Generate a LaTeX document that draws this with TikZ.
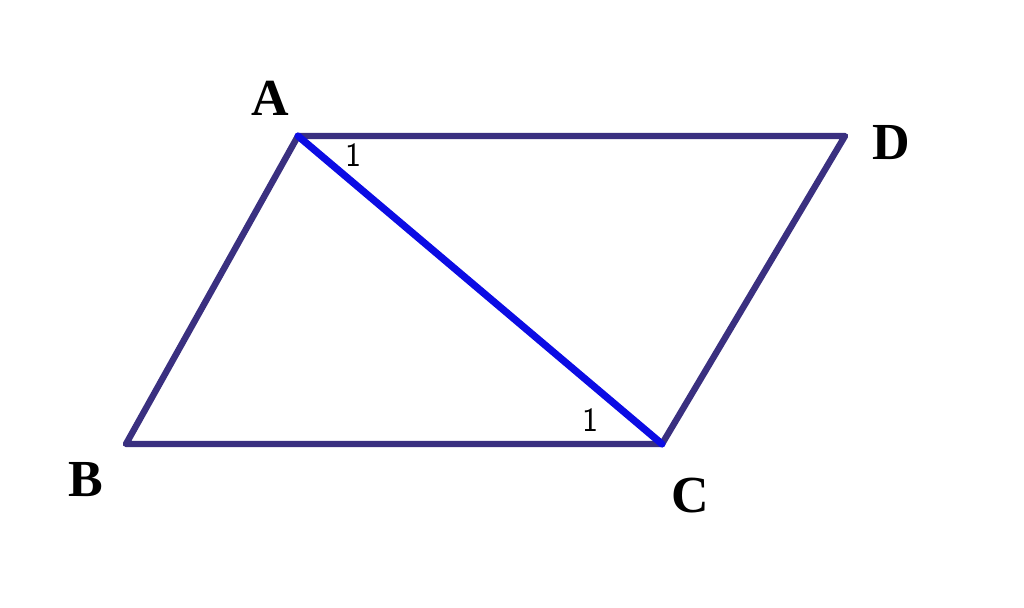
\documentclass[tikz,border=0pt]{standalone}
\usepackage{fontspec}
\setmainfont{Liberation Serif}
\usetikzlibrary{calc,positioning}
\definecolor{myedge}{RGB}{58,48,128}
\definecolor{mydiag}{RGB}{12,12,228}

\begin{document}
\begin{tikzpicture}[x=0.5pt, y=-0.5pt,
    vertex/.style = {font=\bfseries\fontsize{26}{26}\selectfont, inner sep=0pt},
    angle/.style = {font=\sffamily\fontsize{17}{17}\selectfont, inner sep=0pt},
    side/.style = {draw=myedge, line width=3.2pt, line join=round},
    diag/.style = {draw=mydiag, line width=3.6pt, line cap=round}]
  \useasboundingbox (0,0) rectangle (1024,608);
  \coordinate (A) at (298,136);
  \coordinate (D) at (845,136);
  \coordinate (C) at (662,444);
  \coordinate (B) at (126,444);
  \draw[side] (A) -- (D) -- (C) -- (B) -- cycle;
  \draw[diag] (A) -- (C);
  \node[vertex] (lA) at (270,98) {A};
  \node[vertex] (lD) at (891,143) {D};
  \node[vertex] (lB) at (86,480) {B};
  \node[vertex] (lC) at (690,496) {C};
  \node[angle] (a1) at (353,155) {1};
  \node[angle] (c1) at (590,420) {1};
\end{tikzpicture}
\end{document}
